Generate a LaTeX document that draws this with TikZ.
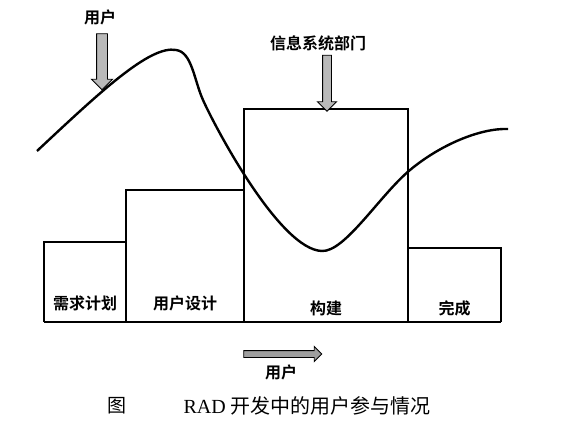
\documentclass[tikz,border=0pt]{standalone}
\usepackage{fontspec}
\setmainfont{Liberation Serif}
\newfontfamily\cjk{Noto Sans CJK SC}
\newfontfamily\cjkbold{Noto Sans CJK SC Bold}
\usetikzlibrary{shapes.arrows}

\tikzset{
	stage/.style={draw, line width=1.1pt},
	stage label/.style={font=\cjkbold\fontsize{16}{16}\selectfont},
	user arrow/.style={single arrow, draw, line width=0.9pt, fill=gray!55,
		inner sep=5pt, single arrow head extend=5pt},
}

\begin{document}
\begin{tikzpicture}[x=1pt, y=-1pt]
	\useasboundingbox (0,0) rectangle (567,446);
	
	% stages
	\foreach \a/\b/\t/\l/\n/\y in {44/126/242/需求计划/plan/303, 126/244/190/用户设计/design/303, 244/408/109/构建/build/308, 408/501/248/完成/done/308}
	{
	\draw [stage] (\a,322) -- (\a,\t) -- (\b,\t) -- (\b,322);
	\node [stage label] (\n) at ({(\a+\b)/2},\y) {\l};
	}
	\draw [stage] (44,322) -- (501,322);
	
	% participation curve
	\draw [line width=2.4pt] (37,151) .. controls (100,92) and (150,45) .. (176,50)
		.. controls (192,52) and (194,80) .. (203,100)
		.. controls (215,127) and (280,250) .. (322,251)
		.. controls (345,252) and (380,195) .. (410,170)
		.. controls (440,145) and (480,128) .. (508,129);
	
	% users and IS
	\node [stage label] (user-1) at (100,17) {用户};
	\node [user arrow, minimum height=56pt, rotate=-90] (arrow-1) at (102,59) {};
	
	\node [stage label] (is) at (318,43) {信息系统部门};
	\node [user arrow, minimum height=56pt, inner sep=4pt, rotate=-90] (arrow-2) at (327,81) {};
	
	\node [user arrow, minimum height=78pt, inner sep=3pt, single arrow head extend=4pt, fill=gray!75] (arrow-3) at (281,354) {};
	\node [stage label] (user-2) at (281,372) {用户};
	
	% caption
	\node [font=\cjk\fontsize{19}{19}\selectfont] (fig) at (117,406) {图};
	\node [font=\fontsize{20}{20}\selectfont, anchor=west] (caption) at (180,406) {RAD {\cjk 开发中的用户参与情况}};
\end{tikzpicture}
\end{document}
